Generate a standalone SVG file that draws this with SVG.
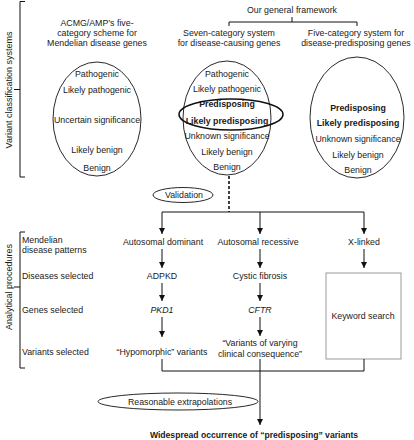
<svg xmlns="http://www.w3.org/2000/svg" width="414" height="440" viewBox="0 0 414 440">
<style>
text{font-family:"Liberation Sans",Arial,sans-serif;font-size:8.8px;fill:#1a1a1a}
.c{text-anchor:middle}
.b{font-weight:bold}
.i{font-style:italic}
.ln{fill:none;stroke:#111;stroke-width:1}
.el{fill:none;stroke:#111;stroke-width:0.9}
</style>
<defs>
<marker id="ah" markerUnits="userSpaceOnUse" markerWidth="7" markerHeight="7" refX="6" refY="3" orient="auto">
<path d="M0,0 L6,3 L0,6 z" fill="#111"/>
</marker>
</defs>
<rect width="414" height="440" fill="#fff"/>

<g id="side-labels">
<text class="c" transform="translate(12,90) rotate(-90)" style="font-size:9px">Variant classification systems</text>
<text class="c" transform="translate(12,287) rotate(-90)" style="font-size:9px">Analytical procedures</text>
<text x="22" y="243">Mendelian</text>
<text x="22" y="253">disease patterns</text>
<text x="22" y="279">Diseases selected</text>
<text x="22" y="313">Genes selected</text>
<text x="22" y="355">Variants selected</text>
</g>

<g id="acmg">
<text class="c" x="97" y="26">ACMG/AMP’s five-</text>
<text class="c" x="97" y="36">category scheme for</text>
<text class="c" x="97" y="46">Mendelian disease genes</text>
<ellipse class="el" cx="97" cy="119" rx="44" ry="57"/>
<text class="c" x="97" y="77">Pathogenic</text>
<text class="c" x="97" y="93">Likely pathogenic</text>
<text class="c" x="97" y="123">Uncertain significance</text>
<text class="c" x="97" y="153">Likely benign</text>
<text class="c" x="97" y="171">Benign</text>
</g>

<g id="framework">
<text class="c" x="292" y="13">Our general framework</text>
</g>

<g id="seven">
<text class="c" x="229" y="36">Seven-category system</text>
<text class="c" x="229" y="46">for disease-causing genes</text>
<ellipse class="el" cx="227" cy="118" rx="44" ry="57"/>
<text class="c" x="227" y="77">Pathogenic</text>
<text class="c" x="227" y="92">Likely pathogenic</text>
<text class="c b" x="227" y="107">Predisposing</text>
<text class="c b" x="227" y="124">Likely predisposing</text>
<text class="c" x="227" y="139">Unknown significance</text>
<text class="c" x="227" y="155">Likely benign</text>
<text class="c" x="227" y="170">Benign</text>
<ellipse cx="231" cy="114.5" rx="52" ry="15.5" fill="none" stroke="#111" stroke-width="1.5"/>
</g>

<g id="five">
<text class="c" x="356" y="36">Five-category system for</text>
<text class="c" x="356" y="46">disease-predisposing genes</text>
<ellipse class="el" cx="357" cy="117.5" rx="47" ry="60.5"/>
<text class="c b" x="358" y="111">Predisposing</text>
<text class="c b" x="358" y="126">Likely predisposing</text>
<text class="c" x="358" y="142">Unknown significance</text>
<text class="c" x="358" y="158">Likely benign</text>
<text class="c" x="358" y="173">Benign</text>
</g>

<g id="validation">
<ellipse class="el" cx="183" cy="195" rx="30" ry="7.5"/>
<text class="c" x="184" y="198">Validation</text>
</g>

<g id="ad"><text class="c" x="163" y="245">Autosomal dominant</text></g>
<g id="ar"><text class="c" x="258" y="245">Autosomal recessive</text></g>
<g id="xl"><text class="c" x="364" y="245">X-linked</text></g>
<g id="adpkd"><text class="c" x="162" y="279">ADPKD</text></g>
<g id="cf"><text class="c" x="260" y="279">Cystic fibrosis</text></g>
<g id="pkd1"><text class="c i" x="162" y="313">PKD1</text></g>
<g id="cftr"><text class="c i" x="260" y="313">CFTR</text></g>
<g id="hypo"><text class="c" x="162" y="355">“Hypomorphic” variants</text></g>
<g id="varying">
<text class="c" x="260" y="346">“Variants of varying</text>
<text class="c" x="260" y="357">clinical consequence”</text>
</g>
<g id="keyword">
<rect x="326" y="273" width="75" height="86" fill="none" stroke="#9a9a9a" stroke-width="1"/>
<text class="c" x="363" y="319">Keyword search</text>
</g>
<g id="extrap">
<ellipse class="el" cx="178" cy="401.5" rx="80" ry="8.5"/>
<text class="c" x="180" y="405">Reasonable extrapolations</text>
</g>
<g id="result">
<text class="c b" x="254" y="438" style="font-size:8.6px">Widespread occurrence of “predisposing” variants</text>
</g>

<g id="connectors">
<path class="ln" d="M25,1.5 H20 V177 H25 M20,89.5 H14"/>
<path class="ln" d="M25,232 H20 V368 H25 M20,287 H14"/>
<path class="ln" d="M229,26 V22 H357 V26 M292,22 V17"/>
<path d="M229,176 V212" fill="none" stroke="#111" stroke-width="1.6" stroke-dasharray="3,2"/>
<path class="ln" d="M162,212 H364"/>
<path class="ln" d="M162,212 V234" marker-end="url(#ah)"/>
<path class="ln" d="M260,212 V234" marker-end="url(#ah)"/>
<path class="ln" d="M364,212 V234" marker-end="url(#ah)"/>
<path class="ln" d="M162,249 V268" marker-end="url(#ah)"/>
<path class="ln" d="M260,249 V268" marker-end="url(#ah)"/>
<path class="ln" d="M364,249 V268" marker-end="url(#ah)"/>
<path class="ln" d="M162,283 V301" marker-end="url(#ah)"/>
<path class="ln" d="M260,283 V301" marker-end="url(#ah)"/>
<path class="ln" d="M162,317 V337" marker-end="url(#ah)"/>
<path class="ln" d="M260,317 V336" marker-end="url(#ah)"/>
<path class="ln" d="M162,359 V371 H364 V359"/>
<path class="ln" d="M260,359 V425" marker-end="url(#ah)"/>
</g>
</svg>
